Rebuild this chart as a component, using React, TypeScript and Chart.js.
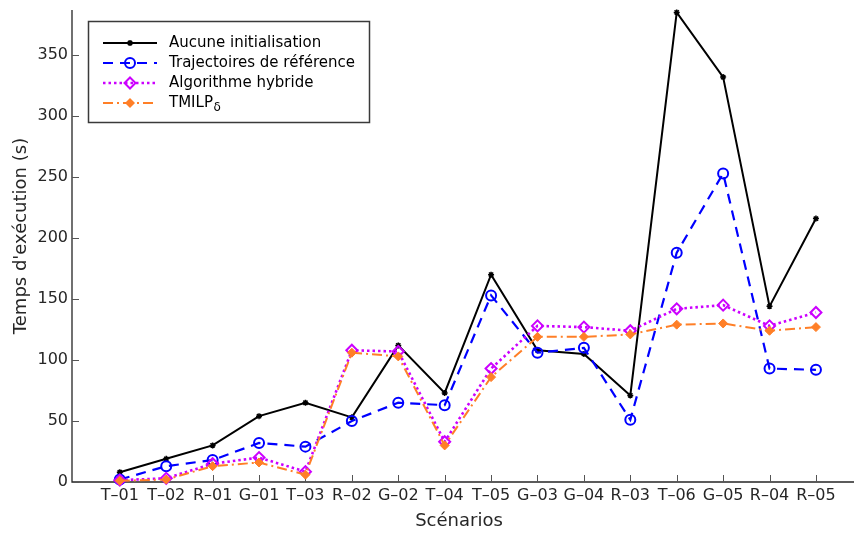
import React, { useEffect, useRef } from "react";
import { Chart, registerables } from "chart.js";

Chart.register(...registerables);

// Scenario names shown along the x axis
const SCENARIOS = [
  "T\u201301", "T\u201302", "R\u201301", "G\u201301", "T\u201303", "R\u201302", "G\u201302", "T\u201304",
  "T\u201305", "G\u201303", "G\u201304", "R\u201303", "T\u201306", "G\u201305", "R\u201304", "R\u201305",
];

// Execution times (s) for each method
const AUCUNE_INIT = [8, 19, 30, 54, 65, 53, 112, 73, 170, 108, 105, 71, 385, 332, 144, 216];
const TRAJ_REF = [2, 13, 18, 32, 29, 50, 65, 63, 153, 106, 110, 51, 188, 253, 93, 92];
const ALGO_HYBRIDE = [1.5, 3, 15, 20, 8.5, 108, 107, 33, 93, 128, 127, 124, 142, 145, 128, 139];
const TMILP_DELTA = [1, 2, 13, 16, 6, 106, 103, 30, 86, 119, 119, 121, 129, 130, 124, 127];

const Y_TICKS = [0, 50, 100, 150, 200, 250, 300, 350];
const Y_MAX = 387;
const X_MIN = -1.03;
const X_MAX = 15.82;

const FONT = '"DejaVu Sans", "Liberation Sans", sans-serif';
const AXIS_COLOR = "#262626";

type SeriesStyle = {
  label: string;
  sub?: string;
  color: string;
  dash: number[];
  width: number;
  marker: "star" | "circle" | "diamond" | "filledDiamond";
};

const STYLES: SeriesStyle[] = [
  { label: "Aucune initialisation", color: "#000000", dash: [], width: 2, marker: "star" },
  { label: "Trajectoires de référence", color: "#0000ff", dash: [10, 7], width: 2.2, marker: "circle" },
  { label: "Algorithme hybride", color: "#cc00ff", dash: [2.5, 3], width: 2.6, marker: "diamond" },
  { label: "TMILP", sub: "\u03b4", color: "#ff7f27", dash: [10, 4, 2, 4], width: 2, marker: "filledDiamond" },
];

function drawMarker(ctx: CanvasRenderingContext2D, s: SeriesStyle, x: number, y: number) {
  ctx.save();
  ctx.setLineDash([]);
  ctx.strokeStyle = s.color;
  ctx.fillStyle = s.color;
  ctx.beginPath();
  if (s.marker === "star") {
    const r = 3;
    ctx.lineWidth = 1.5;
    ctx.moveTo(x - r, y); ctx.lineTo(x + r, y);
    ctx.moveTo(x, y - r); ctx.lineTo(x, y + r);
    ctx.moveTo(x - r * 0.7, y - r * 0.7); ctx.lineTo(x + r * 0.7, y + r * 0.7);
    ctx.moveTo(x - r * 0.7, y + r * 0.7); ctx.lineTo(x + r * 0.7, y - r * 0.7);
    ctx.stroke();
  } else if (s.marker === "circle") {
    ctx.lineWidth = 2;
    ctx.arc(x, y, 5, 0, Math.PI * 2);
    ctx.stroke();
  } else if (s.marker === "diamond") {
    const r = 5.5;
    ctx.lineWidth = 2;
    ctx.moveTo(x, y - r); ctx.lineTo(x + r, y); ctx.lineTo(x, y + r); ctx.lineTo(x - r, y); ctx.closePath();
    ctx.stroke();
  } else {
    const r = 5;
    ctx.moveTo(x, y - r); ctx.lineTo(x + r, y); ctx.lineTo(x, y + r); ctx.lineTo(x - r, y); ctx.closePath();
    ctx.fill();
  }
  ctx.restore();
}

// Spines, inward tick marks and axis titles
const axesPlugin = {
  id: "axesFrame",
  beforeDatasetsDraw(chart: any) {
    const { ctx, chartArea, scales } = chart;
    const { left, right, top, bottom } = chartArea;
    ctx.save();
    ctx.strokeStyle = AXIS_COLOR;
    ctx.lineWidth = 1.3;
    ctx.beginPath();
    ctx.moveTo(left, top);
    ctx.lineTo(left, bottom);
    ctx.lineTo(right, bottom);
    ctx.stroke();

    ctx.lineWidth = 1;
    ctx.strokeStyle = "#555555";
    ctx.beginPath();
    SCENARIOS.forEach((_, i) => {
      const px = Math.round(scales.x.getPixelForValue(i)) + 0.5;
      ctx.moveTo(px, bottom);
      ctx.lineTo(px, bottom - 7);
    });
    Y_TICKS.forEach((v) => {
      const py = Math.round(scales.y.getPixelForValue(v)) + 0.5;
      ctx.moveTo(left, py);
      ctx.lineTo(left + 7, py);
    });
    ctx.stroke();

    ctx.fillStyle = AXIS_COLOR;
    ctx.font = `18px ${FONT}`;
    ctx.textAlign = "center";
    ctx.textBaseline = "middle";
    ctx.fillText("Scénarios", 459, 521);
    ctx.translate(21, 236);
    ctx.rotate(-Math.PI / 2);
    ctx.fillText("Temps d'exécution (s)", 0, 0);
    ctx.restore();
  },
};

// Boxed legend in the upper-left corner of the plot
const legendPlugin = {
  id: "boxLegend",
  afterDraw(chart: any) {
    const { ctx } = chart;
    const bx = 88.5, by = 21.5, bw = 281, bh = 101;
    ctx.save();
    ctx.fillStyle = "#ffffff";
    ctx.fillRect(bx, by, bw, bh);
    ctx.strokeStyle = "#3a3a3a";
    ctx.lineWidth = 1.5;
    ctx.strokeRect(bx, by, bw, bh);

    const rows = [43, 63, 83, 103];
    STYLES.forEach((s, i) => {
      const y = rows[i];
      ctx.save();
      ctx.strokeStyle = s.color;
      ctx.lineWidth = s.width;
      ctx.setLineDash(s.dash);
      ctx.beginPath();
      ctx.moveTo(103, y);
      ctx.lineTo(157, y);
      ctx.stroke();
      ctx.restore();
      drawMarker(ctx, s, 130, y);

      ctx.fillStyle = "#000000";
      ctx.font = `15px ${FONT}`;
      ctx.textAlign = "left";
      ctx.textBaseline = "middle";
      ctx.fillText(s.label, 169, y);
      if (s.sub) {
        const w = ctx.measureText(s.label).width;
        ctx.font = `12px ${FONT}`;
        ctx.fillText(s.sub, 169 + w + 0.5, y + 5);
      }
    });
    ctx.restore();
  },
};

const toPoints = (vals: number[]) => vals.map((y, i) => ({ x: i, y }));

export default function App() {
  const canvasRef = useRef<HTMLCanvasElement | null>(null);

  useEffect(() => {
    const canvas = canvasRef.current;
    if (!canvas) return;

    const series = [AUCUNE_INIT, TRAJ_REF, ALGO_HYBRIDE, TMILP_DELTA];
    const pointStyles: any[] = ["star", "circle", "rectRot", "rectRot"];
    const radii = [3, 5, 5.5, 4.5];

    const datasets = STYLES.map((s, i) => ({
      label: s.label + (s.sub || ""),
      data: toPoints(series[i]),
      borderColor: s.color,
      backgroundColor: s.marker === "filledDiamond" ? s.color : "rgba(0,0,0,0)",
      borderWidth: s.width,
      borderDash: s.dash,
      pointStyle: pointStyles[i],
      pointRadius: radii[i],
      pointBorderWidth: s.marker === "star" ? 1.5 : s.marker === "filledDiamond" ? 1 : 2,
      pointBorderColor: s.color,
      pointBackgroundColor: s.marker === "filledDiamond" ? s.color : "rgba(0,0,0,0)",
      tension: 0,
      fill: false,
      clip: false as any,
      order: STYLES.length - i,
    }));

    const chart = new Chart(canvas, {
      type: "line",
      data: { datasets },
      options: {
        responsive: false,
        animation: false,
        devicePixelRatio: 1,
        layout: { autoPadding: false, padding: { top: 10, right: 1, left: 0, bottom: 0 } },
        plugins: {
          legend: { display: false },
          tooltip: { enabled: false },
          title: { display: false },
        },
        scales: {
          x: {
            type: "linear",
            min: X_MIN,
            max: X_MAX,
            grid: { display: false, drawTicks: false },
            border: { display: false },
            afterBuildTicks: (scale: any) => {
              scale.ticks = SCENARIOS.map((_, i) => ({ value: i }));
            },
            afterFit: (scale: any) => {
              scale.height = 52;
              scale.paddingLeft = 0;
              scale.paddingRight = 0;
            },
            ticks: {
              autoSkip: false,
              maxRotation: 0,
              minRotation: 0,
              padding: 4,
              color: AXIS_COLOR,
              font: { family: FONT, size: 16 },
              callback: (v: any) => SCENARIOS[Math.round(Number(v))] ?? "",
            },
          },
          y: {
            type: "linear",
            min: 0,
            max: Y_MAX,
            grid: { display: false, drawTicks: false },
            border: { display: false },
            afterBuildTicks: (scale: any) => {
              scale.ticks = Y_TICKS.map((v) => ({ value: v }));
            },
            afterFit: (scale: any) => {
              scale.width = 72;
              scale.paddingTop = 0;
              scale.paddingBottom = 0;
            },
            ticks: {
              padding: 4,
              color: AXIS_COLOR,
              font: { family: FONT, size: 16 },
              callback: (v: any) => String(v),
            },
          },
        },
      },
      plugins: [axesPlugin, legendPlugin],
    });

    return () => chart.destroy();
  }, []);

  return (
    <div style={{ position: "absolute", left: 0, top: 0, width: 855, height: 534, background: "#ffffff" }}>
      <canvas ref={canvasRef} width={855} height={534} style={{ display: "block", width: 855, height: 534 }} />
    </div>
  );
}
